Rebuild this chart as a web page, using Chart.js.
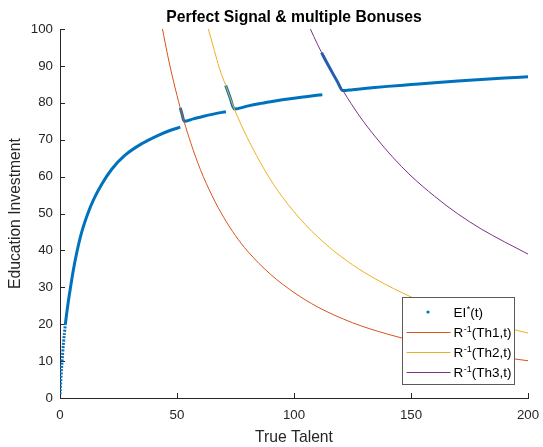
<!DOCTYPE html>
<html><head><meta charset="utf-8">
<script src="https://cdn.jsdelivr.net/npm/chart.js@4.4.1/dist/chart.umd.min.js"></script>
<style>html,body{margin:0;padding:0;background:#fff}canvas{display:block}</style>
</head><body>
<canvas id="c" width="543" height="447"></canvas>
<script>
// ---- data ----
const xTicks = [0, 50, 100, 150, 200];
const yTicks = [0, 10, 20, 30, 40, 50, 60, 70, 80, 90, 100];

// EI*(t): four pieces separated by nulls (each jump runs down an R^-1 curve)
const eiT = [0.02,0.2,0.5,0.9,1.5,2.3,3.3,4.5,5.8,7.2,9.3,11.9,14.3,17.9,22.1,27.8,34.9,42,47,51.4,
             51.4,
             51.4,52.2,53,57,61,66,70.9,
             70.9,
             70.8,72.6,74.5,80,85,90,95,100,105,112.1,
             112.1,
             111.8,114,116,118.5,120.9,125,130,140,150,160,170,180,190,200];
const eiV = [1,3,6.5,10,15,20,25,30,35,39.5,45,50,53.7,58.0,62.0,65.8,68.9,71.2,72.5,73.4,
             null,
             78.6,76.8,75.0,75.65,76.3,77.0,77.6,
             null,
             84.7,81.6,78.3,79.1,79.75,80.3,80.8,81.25,81.65,82.2,
             null,
             93.6,90.9,88.6,85.8,83.3,83.55,83.85,84.45,84.95,85.45,85.9,86.3,86.7,87.05];

const r1T = [43.8,46,48,50,51.4,52.2,53,56,60,65,70,75,80,90,100,110,125,140,155,170,185,200];
const r1V = [100,92.9,87.2,82.0,78.6,76.8,75.0,68.9,61.9,54.8,48.9,44.0,39.9,33.5,28.6,24.7,20.4,17.3,14.9,13.0,11.4,10.1];

const r2T = [63.4,66,68,70.8,72.6,74.5,80,88,95,105,115,125,135,150,165,180,200];
const r2V = [100,94.1,89.6,84.7,81.6,78.3,70.6,61.2,54.5,46.9,40.9,36.1,32.2,27.4,23.6,20.7,17.6];

const r3T = [107,110,111.8,114,116,118.5,120.9,128,135,142,150,160,170,180,190,200];
const r3V = [100,95.9,93.6,90.9,88.6,85.8,83.3,76.4,70.6,65.4,60.2,54.7,49.9,45.8,42.3,39.0];

const labels = ['EI*(t)', 'R⁻¹(Th1,t)', 'R⁻¹(Th2,t)', 'R⁻¹(Th3,t)'];
const colors = ['#0072BD', '#D95319', '#EDB120', '#7E2F8E'];

// ---- chart ----
const FONT = "'Liberation Sans', Arial, Helvetica, sans-serif";
const AX = '#262626';
const pts = (T, V) => T.map((t, i) => ({x: t, y: V[i]}));

const centerTitle = {
  id: 'centerTitle',
  afterLayout(chart) {
    const tb = chart.titleBlock;
    if (tb) { tb.left = chart.chartArea.left; tb.right = chart.chartArea.right; }
  }
};

const inwardTicks = {
  id: 'inwardTicks',
  beforeDatasetsDraw(chart) {
    const {ctx, chartArea: a, scales: {x, y}} = chart;
    ctx.save();
    ctx.strokeStyle = AX; ctx.lineWidth = 1;
    ctx.beginPath();
    x.ticks.forEach(t => {
      const px = Math.round(x.getPixelForValue(t.value)) + 0.5;
      ctx.moveTo(px, a.bottom); ctx.lineTo(px, a.bottom - 5);
    });
    y.ticks.forEach(t => {
      const py = Math.round(y.getPixelForValue(t.value)) + 0.5;
      ctx.moveTo(a.left, py); ctx.lineTo(a.left + 5, py);
    });
    ctx.stroke();
    ctx.restore();
  }
};

const legendBox = {
  id: 'legendBox',
  afterDraw(chart) {
    const {ctx, chartArea: a} = chart;
    const L = Math.round(a.right - 126) + 0.5, T = Math.round(a.bottom - 101) + 0.5, W = 112, H = 87;
    ctx.save();
    ctx.fillStyle = '#fff';
    ctx.fillRect(L, T, W, H);
    ctx.strokeStyle = '#5a5a5a'; ctx.lineWidth = 1;
    ctx.strokeRect(L, T, W, H);
    const parts = [
      ['EI', '*', '(t)'],
      ['R', '-1', '(Th1,t)'],
      ['R', '-1', '(Th2,t)'],
      ['R', '-1', '(Th3,t)']
    ];
    parts.forEach((p, i) => {
      const cy = T + 14.5 + i * 20;
      if (i === 0) {
        ctx.fillStyle = colors[0];
        ctx.beginPath(); ctx.arc(L + 25.5, cy, 1.6, 0, Math.PI * 2); ctx.fill();
      } else {
        ctx.strokeStyle = colors[i]; ctx.lineWidth = 1;
        ctx.beginPath(); ctx.moveTo(L + 4, Math.round(cy) + 0.5); ctx.lineTo(L + 48, Math.round(cy) + 0.5); ctx.stroke();
      }
      let x = L + 51;
      const base = cy + 4.8;
      ctx.fillStyle = '#000';
      ctx.textBaseline = 'alphabetic';
      ctx.font = '13.5px ' + FONT;
      ctx.fillText(p[0], x, base); x += ctx.measureText(p[0]).width;
      ctx.font = '9px ' + FONT;
      ctx.fillText(p[1], x + 0.5, base - 5); x += ctx.measureText(p[1]).width + 0.5;
      ctx.font = '13.5px ' + FONT;
      ctx.fillText(p[2], x, base);
    });
    ctx.restore();
  }
};

new Chart(document.getElementById('c').getContext('2d'), {
  type: 'line',
  data: {
    datasets: [
      {label: labels[0], data: pts(eiT, eiV), borderColor: colors[0], backgroundColor: colors[0],
       borderWidth: 3, pointRadius: 0, order: 1, spanGaps: false, cubicInterpolationMode: 'monotone',
       segment: {borderDash: c => (c.p0.parsed.y < 17 ? [2, 1.3] : undefined)}},
      {label: labels[1], data: pts(r1T, r1V), borderColor: colors[1], backgroundColor: colors[1],
       borderWidth: 1, pointRadius: 0, order: 0, cubicInterpolationMode: 'monotone'},
      {label: labels[2], data: pts(r2T, r2V), borderColor: colors[2], backgroundColor: colors[2],
       borderWidth: 1, pointRadius: 0, order: 0, cubicInterpolationMode: 'monotone'},
      {label: labels[3], data: pts(r3T, r3V), borderColor: colors[3], backgroundColor: colors[3],
       borderWidth: 1, pointRadius: 0, order: 0, cubicInterpolationMode: 'monotone'}
    ]
  },
  options: {
    responsive: false, animation: false, devicePixelRatio: 1,
    layout: {padding: {left: 0, right: 15, top: 0, bottom: 0}},
    plugins: {
      legend: {display: false},
      tooltip: {enabled: false},
      title: {display: true, text: 'Perfect Signal & multiple Bonuses', color: '#000',
              font: {family: FONT, size: 15.7, weight: 'bold'}, padding: {top: 8.1, bottom: 2.06}}
    },
    scales: {
      x: {
        type: 'linear', min: 0, max: 200,
        afterBuildTicks: s => { s.ticks = xTicks.map(v => ({value: v})); },
        afterFit: s => { s.height = 49; s.paddingLeft = 0; s.paddingRight = 0; },
        grid: {display: false, drawTicks: false},
        border: {display: true, color: AX, width: 1},
        ticks: {color: AX, font: {family: FONT, size: 13.3}, padding: 9, maxRotation: 0, autoSkip: false},
        title: {display: true, text: 'True Talent', color: AX, font: {family: FONT, size: 15.7}, padding: {top: 0, bottom: 0}}
      },
      y: {
        type: 'linear', min: 0, max: 100,
        afterBuildTicks: s => { s.ticks = yTicks.map(v => ({value: v})); },
        afterFit: s => { s.width = 60; s.paddingTop = 0; s.paddingBottom = 0; },
        grid: {display: false, drawTicks: false},
        border: {display: true, color: AX, width: 1},
        ticks: {color: AX, font: {family: FONT, size: 13.3}, padding: 7, autoSkip: false},
        title: {display: true, text: 'Education Investment', color: AX, font: {family: FONT, size: 15.7}, padding: {top: 6.6, bottom: 0}}
      }
    }
  },
  plugins: [centerTitle, inwardTicks, legendBox]
});
</script>
</body></html>
